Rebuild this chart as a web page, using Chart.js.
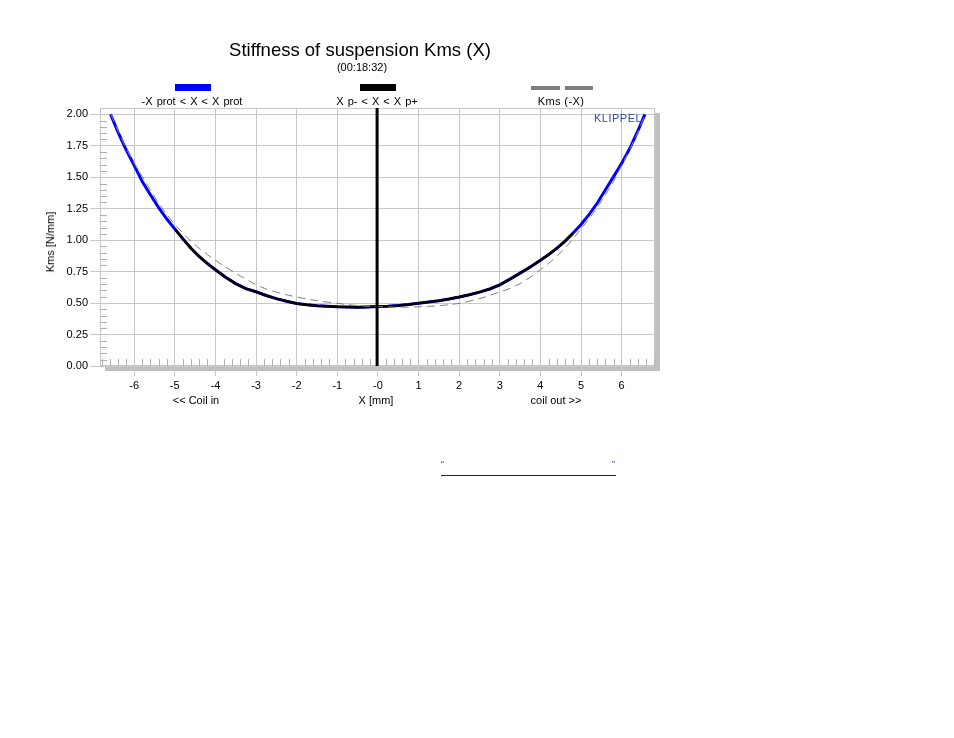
<!DOCTYPE html>
<html>
<head>
<meta charset="utf-8">
<title>Stiffness of suspension Kms (X)</title>
<script src="https://cdn.jsdelivr.net/npm/chart.js@4.4.0/dist/chart.umd.min.js"></script>
<style>
    body { margin: 0; background: #fff; font-family: "Liberation Sans", Arial, sans-serif; }
    #wrap { position: relative; width: 954px; height: 738px; }
    #kmsChart { position: absolute; left: 0; top: 0; }
    .txt { position: absolute; white-space: nowrap; color: #000; font-size: 11px; line-height: 14px; }
    .center { transform: translateX(-50%); }
    .swatch { position: absolute; }
</style>
</head>
<body>
<div id="wrap">
    <canvas id="kmsChart" width="954" height="738"></canvas>

    <!-- Title -->
    <div class="txt center" style="left:360px; top:40px; font-size:18.5px; line-height:20px;">Stiffness of suspension Kms (X)</div>
    <div class="txt center" style="left:362px; top:60px;">(00:18:32)</div>

    <!-- Legend -->
    <div class="swatch" style="left:175px; top:84px; width:36px; height:7px; background:#0000ff;"></div>
    <div class="txt center" style="left:192px; top:94px; word-spacing:1px;">-X prot &lt; X &lt; X prot</div>
    <div class="swatch" style="left:360px; top:84px; width:36px; height:7px; background:#000;"></div>
    <div class="txt center" style="left:377px; top:94px; word-spacing:1px;">X p- &lt; X &lt; X p+</div>
    <div class="swatch" style="left:531px; top:86px; width:29px; height:4px; background:#808080;"></div>
    <div class="swatch" style="left:565px; top:86px; width:28px; height:4px; background:#808080;"></div>
    <div class="txt center" style="left:561px; top:94px; letter-spacing:0.4px;">Kms (-X)</div>

    <!-- Axis labels -->
    <div class="txt" style="left:50px; top:242px; transform:translate(-50%,-50%) rotate(-90deg);">Kms [N/mm]</div>
    <div class="txt center" style="left:196px; top:393px;">&lt;&lt; Coil in</div>
    <div class="txt center" style="left:376px; top:393px;">X [mm]</div>
    <div class="txt center" style="left:556px; top:393px;">coil out &gt;&gt;</div>

    <div class="txt" style="left:594px; top:111px; color:#3050a0; letter-spacing:0.5px;">KLIPPEL</div>

    <!-- Comment line under the chart -->
    <div class="txt" style="left:441px; top:457px; font-size:9px; color:#3040c0;">&ldquo;</div>
    <div class="txt" style="left:612px; top:457px; font-size:9px; color:#3040c0;">&rdquo;</div>
    <div class="swatch" style="left:441px; top:475px; width:175px; height:1px; background:#1010d0;"></div>
</div>

<script>
// Displacement X [mm] and measured stiffness Kms [N/mm]
const xPositions = [
    -6.58, -6.4, -6.2, -6.0, -5.8, -5.6, -5.4, -5.2, -5.0, -4.8, -4.6, -4.4, -4.2, -4.0,
    -3.75, -3.5, -3.25, -3.0, -2.75, -2.5, -2.25, -2.0, -1.75, -1.5, -1.25, -1.0, -0.75,
    -0.5, -0.25, 0, 0.25, 0.5, 0.75, 1.0, 1.25, 1.5, 1.75, 2.0, 2.25, 2.5, 2.75, 3.0,
    3.25, 3.5, 3.75, 4.0, 4.2, 4.4, 4.6, 4.8, 5.0, 5.2, 5.4, 5.6, 5.8, 6.0, 6.2, 6.4, 6.57
];
const kmsValues = [
    2.0, 1.86, 1.72, 1.595, 1.465, 1.36, 1.26, 1.17, 1.09, 1.01, 0.935, 0.87, 0.815, 0.765,
    0.705, 0.655, 0.615, 0.59, 0.56, 0.535, 0.515, 0.497, 0.487, 0.479, 0.474, 0.47, 0.468,
    0.467, 0.469, 0.472, 0.475, 0.48, 0.488, 0.498, 0.508, 0.519, 0.532, 0.548, 0.566, 0.587, 0.612, 0.645,
    0.69, 0.738, 0.787, 0.84, 0.885, 0.935, 0.99, 1.055, 1.125, 1.205, 1.295, 1.40, 1.505, 1.61, 1.73, 1.87, 2.0
];

// Kms (-X), the mirrored curve
const mirrorX = [
    -6.57, -6.4, -6.2, -6.0, -5.8, -5.6, -5.4, -5.2, -5.0, -4.8, -4.6, -4.4, -4.2, -4.0,
    -3.75, -3.5, -3.25, -3.0, -2.75, -2.5, -2.25, -2.0, -1.75, -1.5, -1.25, -1.0, -0.75,
    -0.5, -0.25, 0, 0.25, 0.5, 0.75, 1.0, 1.25, 1.5, 1.75, 2.0, 2.25, 2.5, 2.75, 3.0,
    3.25, 3.5, 3.75, 4.0, 4.2, 4.4, 4.6, 4.8, 5.0, 5.2, 5.4, 5.6, 5.8, 6.0, 6.2, 6.4, 6.58
];
const mirrorKms = [
    2.0, 1.87, 1.73, 1.61, 1.505, 1.40, 1.295, 1.205, 1.125, 1.055, 0.99, 0.935, 0.885, 0.84,
    0.787, 0.738, 0.69, 0.645, 0.612, 0.587, 0.566, 0.548, 0.532, 0.519, 0.508, 0.498, 0.488,
    0.48, 0.475, 0.472, 0.469, 0.467, 0.468, 0.47, 0.474, 0.479, 0.487, 0.497, 0.515, 0.535, 0.56, 0.59,
    0.615, 0.655, 0.705, 0.765, 0.815, 0.87, 0.935, 1.01, 1.09, 1.17, 1.26, 1.36, 1.465, 1.595, 1.72, 1.86, 2.0
];

// Xp- .. Xp+ range (black) and rest position marker
const xpRange = [-5.0, 4.8];
const xRest = -0.02;

// Axis ticks
const xTickValues = [-6, -5, -4, -3, -2, -1, 0, 1, 2, 3, 4, 5, 6];
const yTickValues = [0, 0.25, 0.5, 0.75, 1.0, 1.25, 1.5, 1.75, 2.0];
const xRange = [-6.84, 6.82];
const yRange = [0, 2.05];

const GRID = '#c8c8c8';

function toPoints(xs, ys) {
    return xs.map((x, i) => ({ x: x, y: ys[i] }));
}

// Frame, shadow and minor ticks
const framePlugin = {
    id: 'frame',
    beforeDraw(chart) {
        const a = chart.chartArea;
        const ctx = chart.ctx;
        ctx.save();
        ctx.fillStyle = '#c0c0c0';
        ctx.fillRect(a.right, a.top + 5, 5, a.bottom - a.top);
        ctx.fillRect(a.left + 5, a.bottom, a.right - a.left, 5);
        ctx.restore();
    },
    beforeDatasetsDraw(chart) {
        const a = chart.chartArea;
        const ctx = chart.ctx;
        const xs = chart.scales.x;
        const ys = chart.scales.y;
        ctx.save();
        ctx.strokeStyle = GRID;
        ctx.lineWidth = 1;
        ctx.strokeRect(a.left + 0.5, a.top + 0.5, a.right - a.left - 1, a.bottom - a.top - 1);
        ctx.strokeStyle = '#b0b0b0';
        ctx.beginPath();
        for (let i = -34; i <= 34; i++) {
            if (i % 5 === 0) continue;
            const px = Math.round(xs.getPixelForValue(i / 5)) + 0.5;
            if (px <= a.left || px >= a.right) continue;
            ctx.moveTo(px, a.bottom - 7);
            ctx.lineTo(px, a.bottom);
        }
        for (let j = 1; j <= 40; j++) {
            if (j % 5 === 0) continue;
            const py = Math.round(ys.getPixelForValue(j / 20)) + 0.5;
            ctx.moveTo(a.left, py);
            ctx.lineTo(a.left + 7, py);
        }
        ctx.stroke();
        ctx.restore();
    }
};

document.addEventListener('DOMContentLoaded', function() {
    const allPoints = toPoints(xPositions, kmsValues);
    const xpPoints = allPoints.filter(p => p.x >= xpRange[0] && p.x <= xpRange[1]);

    const ctx = document.getElementById('kmsChart').getContext('2d');
    new Chart(ctx, {
        type: 'scatter',
        data: {
            datasets: [
                {
                    label: 'rest',
                    data: [{ x: xRest, y: yRange[0] }, { x: xRest, y: yRange[1] }],
                    borderColor: '#000',
                    borderWidth: 3,
                    showLine: true,
                    pointRadius: 0,
                    order: 0
                },
                {
                    label: 'Kms (-X)',
                    data: toPoints(mirrorX, mirrorKms),
                    borderColor: '#808080',
                    borderWidth: 1,
                    borderDash: [8, 5],
                    showLine: true,
                    pointRadius: 0,
                    order: 1
                },
                {
                    label: 'Xp- < X < Xp+',
                    data: xpPoints,
                    borderColor: '#000',
                    borderWidth: 2.5,
                    showLine: true,
                    pointRadius: 0,
                    order: 2
                },
                {
                    label: '-Xprot < X < Xprot',
                    data: allPoints,
                    borderColor: '#0000ff',
                    borderWidth: 3,
                    showLine: true,
                    pointRadius: 0,
                    order: 3
                }
            ]
        },
        options: {
            responsive: false,
            animation: false,
            devicePixelRatio: 1,
            layout: {
                padding: { left: 0, right: 299, top: 108, bottom: 332 }
            },
            plugins: {
                legend: { display: false },
                tooltip: { enabled: false }
            },
            scales: {
                x: {
                    type: 'linear',
                    min: xRange[0],
                    max: xRange[1],
                    afterBuildTicks: function(scale) {
                        scale.ticks = xTickValues.map(v => ({ value: v }));
                    },
                    afterFit: function(scale) {
                        scale.height = 40;
                    },
                    ticks: {
                        color: '#000',
                        padding: 3,
                        maxRotation: 0,
                        font: { family: '"Liberation Sans", Arial, sans-serif', size: 11 },
                        callback: function(value) {
                            return value === 0 ? '-0' : String(value);
                        }
                    },
                    grid: {
                        color: GRID,
                        tickColor: GRID,
                        tickLength: 10
                    },
                    border: { display: false }
                },
                y: {
                    min: yRange[0],
                    max: yRange[1],
                    afterBuildTicks: function(scale) {
                        scale.ticks = yTickValues.map(v => ({ value: v }));
                    },
                    afterFit: function(scale) {
                        scale.width = 100;
                    },
                    ticks: {
                        color: '#000',
                        padding: 2,
                        font: { family: '"Liberation Sans", Arial, sans-serif', size: 11 },
                        callback: function(value) {
                            return value.toFixed(2);
                        }
                    },
                    grid: {
                        color: GRID,
                        tickColor: GRID,
                        tickLength: 10
                    },
                    border: { display: false }
                }
            }
        },
        plugins: [framePlugin]
    });
});
</script>
</body>
</html>
